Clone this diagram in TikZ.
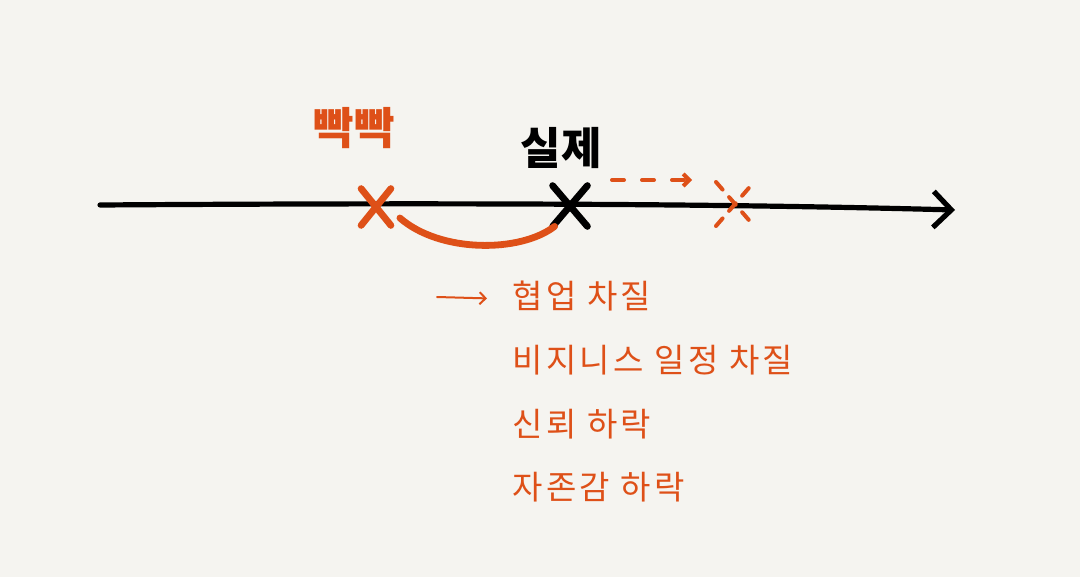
\documentclass[tikz,border=0pt]{standalone}
\usepackage{fontspec}
\newfontfamily\hangul{Noto Sans CJK KR}
\newfontfamily\hangulwide[LetterSpace=10]{Noto Sans CJK KR}
\usetikzlibrary{positioning,arrows.meta,shapes.misc}
\definecolor{paper}{RGB}{245,244,240}
\definecolor{accent}{RGB}{222,80,24}

\tikzset{
	axis/.style = {line width=2.6pt, line cap=round, -{Straight Barb[length=9pt,width=18pt,line width=2.6pt]}},
	markx/.style = {draw, cross out, line width=3.4pt, line cap=round, inner sep=0pt},
	label/.style = {font=\hangul\fontsize{22}{24}\selectfont\bfseries},
	item/.style = {font=\hangulwide\fontsize{16.5}{18}\selectfont, text=accent, inner sep=0pt, text height=13pt, text depth=3pt},
}

\begin{document}
\begin{tikzpicture}[x=0.5pt, y=-0.5pt]
	\fill[paper] (0,0) rectangle (1080,577);
	\useasboundingbox (0,0) rectangle (1080,577);
	
	\coordinate (start) at (100,205);
	\coordinate (end) at (955,210);
	\draw[axis] (start) .. controls (400,203) and (700,203) .. (end);
	
	\node[markx, accent, minimum width=11.5pt, minimum height=15pt] (tight) at (376,207) {};
	\node[markx, minimum width=14pt, minimum height=17pt] (actual) at (570,206) {};
	\node[markx, accent, line width=2pt, dashed, dash pattern=on 5pt off 5pt, minimum width=17pt, minimum height=20pt] (later) at (735,204) {};
	
	\node[label, text=accent] (tightlbl) at (354,128) {빡빡};
	\node[label] (actuallbl) at (561,148) {실제};
	
	% gap between the two marks
	\draw[accent, line width=3.4pt, line cap=round] ([shift={(9,11)}]tight.east) .. controls (440,253) and (520,253) .. ([shift={(2,0)}]actual.south west);
	
	\coordinate (shiftfrom) at (612,180);
	\coordinate (shiftto) at (692,180);
	\draw[accent, line width=2pt, line cap=round, dash pattern=on 6pt off 9pt, -{Straight Barb[length=3pt,width=6pt]}] (shiftfrom) -- (shiftto);
	
	% consequences
	\node[item, anchor=north west] (cs) at (512,282) {협업 차질};
	\node[item, below=15.5pt of cs.south west, anchor=north west] (bs) {비지니스 일정 차질};
	\node[item, below=15.5pt of bs.south west, anchor=north west] (tr) {신뢰 하락};
	\node[item, below=15.5pt of tr.south west, anchor=north west] (se) {자존감 하락};
	
	\coordinate (pointer) at (437,297);
	\draw[accent, line width=1pt, line cap=round, -{Straight Barb[length=3pt,width=6pt]}] (pointer) -- ([shift={(-25,0)}]cs.west);
\end{tikzpicture}
\end{document}
